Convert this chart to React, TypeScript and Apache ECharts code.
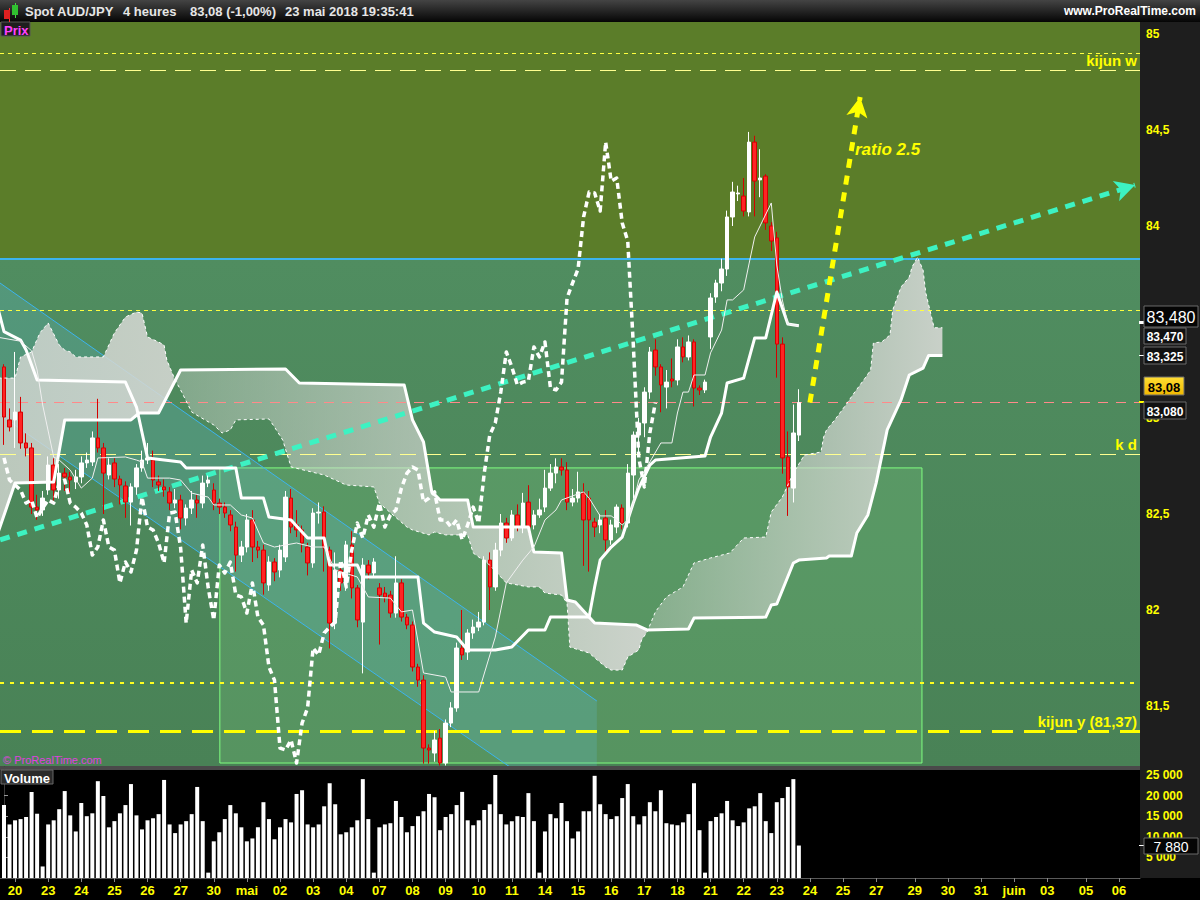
import React, { useEffect, useRef } from 'react';
import * as echarts from 'echarts';

// axe du temps : une séance = 6 barres de 4 heures
const dayLabels = ['20', '23', '24', '25', '26', '27', '30', 'mai', '02', '03', '04', '07', '08', '09', '10', '11', '14', '15', '16', '17', '18', '21', '22', '23', '24', '25', '27', '29', '30', '31', 'juin', '03', '05', '06'];
const dayIndex = [2, 8, 14, 20, 26, 32, 38, 44, 50, 56, 62, 68, 74, 80, 86, 92, 98, 104, 110, 116, 122, 128, 134, 140, 146, 152, 158, 165, 171, 177, 183, 189, 196, 202];

const priceTicks = [81.5, 82, 82.5, 83, 83.5, 84, 84.5, 85];
// 83,5 est caché par les étiquettes de droite
const priceLabels = [81.5, 82, 82.5, 83, 84, 84.5, 85];
const volumeTicks = [5000, 10000, 15000, 20000, 25000];

// bougies 4h : [ouverture, clôture, plus bas, plus haut]
const candles = [
  [83.266, 83.005, 82.86, 83.28], [82.99, 82.953, 82.93, 83.05], [82.99, 83.031, 82.844, 83.344], [83.031, 82.87, 82.84, 83.11],
  [82.87, 82.844, 82.8, 82.92], [82.844, 82.536, 82.5, 82.87], [82.536, 82.521, 82.47, 82.6], [82.521, 82.583, 82.49, 82.62],
  [82.625, 82.755, 82.6, 82.8], [82.755, 82.625, 82.57, 82.79], [82.625, 82.713, 82.58, 82.76], [82.713, 82.693, 82.62, 82.74],
  [82.693, 82.677, 82.61, 82.72], [82.667, 82.693, 82.63, 82.73], [82.693, 82.766, 82.66, 82.8], [82.766, 82.781, 82.74, 82.82],
  [82.771, 82.896, 82.75, 82.93], [82.896, 82.844, 82.82, 83.1], [82.844, 82.713, 82.5, 82.87], [82.703, 82.755, 82.68, 82.79],
  [82.766, 82.682, 82.64, 82.79], [82.682, 82.651, 82.55, 82.7], [82.646, 82.562, 82.48, 82.67], [82.562, 82.641, 82.44, 82.66],
  [82.641, 82.74, 82.6, 82.76], [82.74, 82.781, 82.72, 82.83], [82.781, 82.792, 82.76, 82.87], [82.781, 82.677, 82.64, 82.83],
  [82.667, 82.651, 82.62, 82.7], [82.641, 82.625, 82.59, 82.68], [82.615, 82.557, 82.52, 82.64], [82.557, 82.573, 82.53, 82.63],
  [82.573, 82.479, 82.42, 82.6], [82.479, 82.531, 82.44, 82.55], [82.531, 82.573, 82.5, 82.62], [82.573, 82.557, 82.48, 82.6],
  [82.557, 82.661, 82.53, 82.7], [82.661, 82.677, 82.64, 82.7], [82.625, 82.557, 82.52, 82.66], [82.557, 82.536, 82.5, 82.58],
  [82.536, 82.505, 82.48, 82.56], [82.495, 82.443, 82.41, 82.52], [82.432, 82.286, 82.2, 82.46], [82.286, 82.328, 82.25, 82.36],
  [82.328, 82.469, 82.3, 82.5], [82.469, 82.328, 82.25, 82.52], [82.328, 82.312, 82.27, 82.36], [82.312, 82.141, 82.08, 82.34],
  [82.13, 82.25, 82.1, 82.28], [82.25, 82.198, 82.15, 82.27], [82.208, 82.312, 82.17, 82.34], [82.276, 82.588, 82.25, 82.62],
  [82.583, 82.432, 82.4, 82.63], [82.443, 82.417, 82.38, 82.52], [82.417, 82.349, 82.3, 82.44], [82.328, 82.245, 82.18, 82.35],
  [82.245, 82.505, 82.22, 82.53], [82.505, 82.51, 82.45, 82.56], [82.51, 82.323, 82.2, 82.54], [82.312, 81.932, 81.8, 82.33],
  [81.932, 82.208, 81.9, 82.3], [82.208, 82.141, 82.1, 82.24], [82.141, 82.339, 82.1, 82.36], [82.339, 82.115, 82.06, 82.41],
  [82.115, 81.948, 81.91, 82.13], [81.937, 82.234, 81.67, 82.27], [82.234, 82.193, 82.16, 82.26], [82.193, 82.25, 82.17, 82.27],
  [82.115, 82.078, 81.82, 82.14], [82.088, 82.068, 82.04, 82.12], [82.078, 81.984, 81.96, 82.1], [81.984, 82.141, 81.96, 82.28],
  [82.141, 81.963, 81.94, 82.16], [81.963, 81.922, 81.9, 81.98], [81.922, 81.703, 81.68, 81.94], [81.703, 81.635, 81.6, 81.72],
  [81.635, 81.281, 81.2, 81.66], [81.281, 81.271, 81.2, 81.3], [81.255, 81.323, 81.21, 81.37], [81.333, 81.203, 81.19, 81.38],
  [81.203, 81.411, 81.19, 81.43], [81.411, 81.49, 81.39, 81.52], [81.49, 81.802, 81.47, 81.83], [81.802, 81.766, 81.74, 82.0],
  [81.781, 81.88, 81.74, 81.9], [81.88, 81.911, 81.85, 81.95], [81.911, 81.937, 81.89, 81.99], [81.937, 82.26, 81.92, 82.28],
  [82.26, 82.12, 82.0, 82.3], [82.12, 82.312, 82.1, 82.35], [82.312, 82.453, 82.28, 82.5], [82.453, 82.375, 82.35, 82.48],
  [82.375, 82.495, 82.36, 82.52], [82.495, 82.432, 82.41, 82.55], [82.432, 82.557, 82.4, 82.61], [82.562, 82.432, 82.4, 82.65],
  [82.443, 82.495, 82.42, 82.52], [82.495, 82.521, 82.48, 82.58], [82.536, 82.635, 82.51, 82.73], [82.635, 82.713, 82.62, 82.76],
  [82.713, 82.745, 82.66, 82.79], [82.745, 82.729, 82.7, 82.79], [82.729, 82.562, 82.52, 82.77], [82.562, 82.583, 82.54, 82.63],
  [82.583, 82.615, 82.56, 82.72], [82.609, 82.469, 82.23, 82.66], [82.583, 82.469, 82.2, 82.62], [82.458, 82.432, 82.38, 82.48],
  [82.443, 82.469, 82.4, 82.5], [82.479, 82.365, 82.3, 82.52], [82.365, 82.443, 82.34, 82.47], [82.432, 82.536, 82.4, 82.55],
  [82.531, 82.453, 82.42, 82.55], [82.453, 82.713, 82.43, 82.76], [82.703, 82.911, 82.58, 82.93], [82.911, 82.974, 82.8, 83.0],
  [82.974, 83.135, 82.9, 83.16], [83.135, 83.344, 83.1, 83.37], [83.354, 83.266, 83.22, 83.41], [83.266, 83.172, 83.03, 83.28],
  [83.161, 83.187, 83.05, 83.25], [83.203, 83.193, 83.16, 83.31], [83.198, 83.37, 83.17, 83.41], [83.37, 83.318, 83.29, 83.42],
  [83.318, 83.396, 83.3, 83.43], [83.396, 83.156, 83.06, 83.41], [83.156, 83.146, 83.12, 83.17], [83.146, 83.187, 83.13, 83.2],
  [83.422, 83.625, 83.36, 83.65], [83.63, 83.703, 83.6, 83.72], [83.703, 83.776, 83.66, 83.83], [83.776, 84.047, 83.74, 84.08],
  [84.047, 84.177, 84.0, 84.23], [84.167, 84.172, 84.13, 84.21], [84.156, 84.078, 84.05, 84.25], [84.073, 84.437, 84.05, 84.49],
  [84.437, 84.234, 84.05, 84.47], [84.24, 84.25, 84.15, 84.4], [84.26, 84.016, 83.98, 84.27], [84.0, 83.922, 83.87, 84.02],
  [83.938, 83.385, 83.21, 83.97], [83.385, 82.792, 82.71, 83.42], [82.797, 82.641, 82.49, 82.93], [82.635, 82.922, 82.56, 83.07],
  [82.911, 83.08, 82.88, 83.15],
];

const volumes = [
  17700, 13000, 14000, 14300, 14800, 20900, 15600, 2800, 13000, 14000, 16700, 21100, 15200, 11300, 18200, 15000, 15700, 23500,
  19900, 12300, 13800, 15700, 17700, 22800, 15200, 11800, 14000, 14500, 15500, 23800, 13000, 10900, 13000, 13800, 15500, 22100,
  13800, 1300, 8900, 11100, 14300, 17700, 15700, 12300, 8900, 9600, 12300, 18400, 14300, 9400, 12300, 14300, 13500, 20400,
  21300, 13000, 12300, 13000, 17400, 23000, 17900, 10600, 11100, 12300, 14000, 24000, 14300, 1300, 12300, 13000, 13300, 18700,
  14800, 11100, 12600, 15000, 16200, 20400, 19600, 11600, 14800, 15500, 17700, 20900, 14000, 12800, 14000, 16500, 17900, 25000,
  15500, 13000, 13800, 15000, 14800, 20600, 13800, 1300, 11300, 15500, 14500, 18200, 13800, 9600, 11300, 16200, 16200, 24800,
  17900, 15500, 14300, 15000, 19400, 22800, 15000, 13000, 15000, 18400, 16200, 21300, 13300, 13000, 12800, 13500, 15500, 23000,
  11600, 1300, 13800, 14800, 15700, 18700, 14000, 12600, 13500, 16900, 17400, 20600, 13800, 10900, 18400, 19400, 22100, 24000,
  7880,
];

// Ichimoku : sommets [barre, prix]
const tenkan = [
  [-1, 83.42], [3, 83.4], [5, 83.35], [6, 83.25], [7, 83.068], [9, 82.797], [10, 82.781], [12, 82.729], [14, 82.635], [16, 82.687],
  [17, 82.792], [22, 82.797], [24, 82.781], [25, 82.771], [26, 82.687], [30, 82.687], [32, 82.677], [34, 82.609], [37, 82.588],
  [38, 82.547], [41, 82.547], [43, 82.495], [45, 82.479], [47, 82.349], [49, 82.328], [53, 82.349], [56, 82.328], [58, 82.328],
  [60, 82.208], [64, 82.172], [66, 82.068], [70, 82.062], [72, 81.99], [74, 82.0], [76, 81.672], [80, 81.651], [81, 81.573],
  [86, 81.573], [89, 81.859], [91, 82.141], [94, 82.26], [96, 82.328], [98, 82.469], [100, 82.521], [101, 82.573], [105, 82.615],
  [106, 82.583], [108, 82.49], [110, 82.49], [111, 82.469], [112, 82.443], [113, 82.469], [114, 82.557], [115, 82.677],
  [117, 82.771], [119, 82.87], [121, 82.87], [122, 83.026], [123, 83.135], [124, 83.135], [125, 83.224], [127, 83.224],
  [128, 83.339], [130, 83.458], [131, 83.615], [132, 83.615], [134, 83.667], [135, 83.807], [136, 83.943], [139, 84.12],
  [140, 83.797], [141, 83.615], [142, 83.49], [144, 83.479],
];

const kijun = [
  [-1, 83.56], [0, 83.45], [3, 83.406], [4, 83.354], [6, 83.198], [22, 83.187], [24, 83.057], [26, 82.792], [32, 82.771],
  [33, 82.74], [42, 82.74], [43, 82.583], [47, 82.583], [48, 82.484], [52, 82.469], [55, 82.375], [58, 82.375], [59, 82.234],
  [64, 82.234], [65, 82.172], [75, 82.172], [76, 81.932], [78, 81.885], [82, 81.859], [84, 81.792], [89, 81.792], [92, 81.807],
  [95, 81.896], [98, 81.896], [99, 81.963], [106, 81.963], [107, 82.12], [108, 82.26], [110, 82.328], [112, 82.38], [114, 82.557],
  [115, 82.635], [117, 82.755], [118, 82.781], [127, 82.802], [128, 82.901], [130, 83.026], [131, 83.182], [134, 83.208],
  [136, 83.417], [138, 83.417], [140, 83.656], [142, 83.49], [144, 83.48],
];

const spanA = [
  [-1, 83.208], [2, 83.208], [3, 83.318], [5, 83.344], [6.5, 83.443], [8, 83.495], [10, 83.38], [11, 83.354], [12, 83.344],
  [13, 83.318], [18, 83.318], [20, 83.443], [22, 83.526], [24, 83.552], [25, 83.547], [26, 83.422], [28, 83.396], [29, 83.38],
  [29.5, 83.302], [31, 83.198], [32, 83.146], [34, 83.031], [35.5, 83.005], [38, 82.964], [39.5, 82.922], [41, 82.938],
  [42, 82.99], [48, 82.995], [49, 82.953], [50.5, 82.885], [52, 82.745], [58, 82.703], [62, 82.651], [67, 82.641], [68, 82.557],
  [73, 82.432], [74, 82.417], [77, 82.391], [78, 82.406], [80, 82.391], [84, 82.391], [85, 82.297], [88, 82.234], [91, 82.141],
  [95, 82.12], [97, 82.12], [98, 82.088], [101, 82.078], [102, 82.036], [102.5, 81.807], [106, 81.776], [107.5, 81.739],
  [109, 81.703], [110, 81.687], [112, 81.687], [113, 81.755], [115, 81.792], [115.5, 81.844], [116.5, 81.885], [118, 81.99],
  [120, 82.068], [123, 82.12], [125, 82.245], [128, 82.271], [131.5, 82.297], [134, 82.375], [138, 82.38], [139, 82.51],
  [141, 82.588], [143, 82.713], [145, 82.807], [148, 82.823], [148.5, 82.901], [149, 82.938], [150.5, 82.99], [152.5, 83.068],
  [154, 83.13], [156, 83.208], [157, 83.25], [157.5, 83.391], [159, 83.396], [160.5, 83.432], [161, 83.562], [162.5, 83.682],
  [164, 83.734], [164.5, 83.786], [165.5, 83.838], [166.5, 83.771], [167, 83.651], [168.5, 83.47], [170, 83.47],
];

const spanB = [
  [-1, 82.41], [2, 82.661], [9, 82.667], [11, 82.99], [23, 82.99], [24.5, 83.026], [28, 83.026], [32, 83.25], [51, 83.255],
  [53.5, 83.182], [72.5, 83.172], [74, 82.99], [76, 82.875], [77.5, 82.615], [79, 82.573], [84, 82.573], [85, 82.432],
  [95, 82.432], [96, 82.302], [101, 82.297], [102, 82.052], [103.5, 82.042], [107, 81.932], [114.5, 81.922], [116.5, 81.896],
  [124, 81.901], [125, 81.958], [138, 81.963], [139, 82.026], [140, 82.031], [143, 82.245], [144, 82.26], [149, 82.271],
  [149.5, 82.281], [153.5, 82.281], [154.5, 82.401], [156.5, 82.495], [158, 82.661], [160, 82.938], [162.5, 83.094],
  [164, 83.224], [166.5, 83.26], [167.5, 83.325], [170, 83.325],
];

// niveaux horizontaux et tracés
const levelValues = [84.901, 84.807, 83.828, 83.557, 83.08, 82.807, 81.62, 81.37];
const levelLabels = ['', 'kijun w', '', '', '', 'k d', '', 'kijun y (81,37)'];
const trendUp = [[-0.7, 82.365], [204.9, 84.213]];
const ratioArrow = [[146, 83.08], [155.1, 84.672]];
const channelHigh = [[-0.73, 83.703], [107.4, 81.526]];
const channelLow = [[-0.73, 83.016], [107.4, 80.87]];
const zoneBox = [[39.1, 82.74], [166.3, 81.203]];

const FONT = '"Liberation Sans", Arial, sans-serif';

const App: React.FC = () => {
  const chartRef = useRef<HTMLDivElement>(null);

  useEffect(() => {
    if (!chartRef.current) return;
    const chart = echarts.init(chartRef.current, undefined, { renderer: 'svg' });

    const xMin = -0.725;
    const xMax = 205.8;
    const candleData = candles.map((c, i) => [i, ...c]);
    const volumeData = volumes.map((v, i) => [i, v]);
    // chikou : clôture décalée de 26 barres vers l'arrière
    const chikou = candles.slice(26).map((c, k) => [k, c[1]]);

    const dayLabel = (v: number) => {
      const k = dayIndex.indexOf(Math.round(v));
      return k >= 0 ? dayLabels[k] : '';
    };

    const levelStyles: any[] = [
      { color: '#ffff40', width: 1, type: [4, 4] },
      { color: '#ffff90', width: 1, type: [16, 9] },
      { color: '#3cb4ee', width: 2, type: 'solid' },
      { color: '#ffff40', width: 1, type: [4, 4] },
      { color: '#ff8a8a', width: 1, type: [10, 8] },
      { color: '#ffff90', width: 1, type: [16, 9] },
      { color: '#ffff20', width: 2, type: [4, 6] },
      { color: '#ffff00', width: 3, type: [21, 11] },
    ];

    const line = (data: number[][], color: string, width: number, type: any, z: number) => ({
      type: 'line', xAxisIndex: 0, yAxisIndex: 0, data, symbol: 'none', silent: true, z,
      lineStyle: { color, width, type, join: 'round' },
    });

    const tag = (x: number, y: number, w: number, h: number, text: string, fill: any, color: string, font: string) => ({
      type: 'group',
      children: [
        { type: 'rect', z: 60, shape: { x, y, width: w, height: h }, style: { fill, stroke: '#6a6a6a', lineWidth: 1 } },
        { type: 'text', z: 61, x: x + w / 2, y: y + h / 2 + 1, style: { text, fill: color, font, align: 'center', verticalAlign: 'middle' } },
      ],
    });

    const option: any = {
      animation: false,
      grid: [
        { left: 0, right: 60, top: 22, bottom: 134, show: false },
        { left: 0, right: 60, top: 770, bottom: 22, show: true, backgroundColor: '#000', borderWidth: 0 },
      ],
      xAxis: [
        { type: 'value', gridIndex: 0, min: xMin, max: xMax, show: false },
        {
          type: 'value', gridIndex: 1, min: xMin, max: xMax,
          axisLine: { show: true, lineStyle: { color: '#5a5a5a' } },
          axisTick: { show: true, customValues: dayIndex, length: 4, lineStyle: { color: '#888' } },
          axisLabel: { customValues: dayIndex, formatter: dayLabel, color: '#ffff00', fontWeight: 'bold', fontSize: 13, fontFamily: FONT, margin: 6 },
          splitLine: { show: false },
        },
      ],
      yAxis: [
        {
          type: 'value', gridIndex: 0, position: 'right', min: 81.1875, max: 85.0625,
          axisLine: { show: true, lineStyle: { color: '#3a3a3a' } },
          axisTick: { show: true, customValues: priceTicks, length: 4, lineStyle: { color: '#999' } },
          axisLabel: { customValues: priceLabels, formatter: (v: number) => String(v).replace('.', ','), color: '#ffff00', fontWeight: 'bold', fontSize: 12, fontFamily: FONT, margin: 6 },
          splitLine: { show: false },
        },
        {
          type: 'value', gridIndex: 1, position: 'right', min: 0, max: 26214,
          axisLine: { show: true, lineStyle: { color: '#3a3a3a' } },
          axisTick: { show: true, customValues: volumeTicks, length: 4, lineStyle: { color: '#999' } },
          axisLabel: { customValues: volumeTicks, formatter: (v: number) => `${v / 1000} 000`, color: '#ffff00', fontWeight: 'bold', fontSize: 12, fontFamily: FONT, margin: 6 },
          splitLine: { show: false },
        },
      ],
      graphic: [
        { type: 'rect', z: -1, shape: { x: 1140, y: 22, width: 60, height: 856 }, style: { fill: '#1e1e1e' } },
        { type: 'rect', z: -1, shape: { x: 0, y: 766, width: 1140, height: 4 }, style: { fill: '#4a4a4a' } },
        {
          type: 'rect', z: 50, shape: { x: 0, y: 0, width: 1200, height: 22 },
          style: { fill: new echarts.graphic.LinearGradient(0, 0, 0, 1, [{ offset: 0, color: '#444' }, { offset: 1, color: '#050505' }]) },
        },
        { type: 'rect', z: 51, shape: { x: 9, y: 8, width: 1, height: 14 }, style: { fill: '#ff3030' } },
        { type: 'rect', z: 51, shape: { x: 4, y: 10, width: 6, height: 9 }, style: { fill: '#e02020' } },
        { type: 'rect', z: 51, shape: { x: 15, y: 3, width: 1, height: 15 }, style: { fill: '#40e040' } },
        { type: 'rect', z: 51, shape: { x: 12, y: 5, width: 6, height: 10 }, style: { fill: '#30c030' } },
        { type: 'text', z: 51, x: 25, y: 11, style: { text: 'Spot AUD/JPY', fill: '#e6e6e6', font: `bold 13px ${FONT}`, verticalAlign: 'middle' } },
        { type: 'text', z: 51, x: 123, y: 11, style: { text: '4 heures', fill: '#e6e6e6', font: `bold 13px ${FONT}`, verticalAlign: 'middle' } },
        { type: 'text', z: 51, x: 190, y: 11, style: { text: '83,08 (-1,00%)', fill: '#e6e6e6', font: `bold 13px ${FONT}`, verticalAlign: 'middle' } },
        { type: 'text', z: 51, x: 285, y: 11, style: { text: '23 mai 2018 19:35:41', fill: '#e6e6e6', font: `bold 13px ${FONT}`, verticalAlign: 'middle' } },
        { type: 'text', z: 51, x: 1196, y: 11, style: { text: 'www.ProRealTime.com', fill: '#ffffff', font: `bold 12px ${FONT}`, align: 'right', verticalAlign: 'middle' } },
        { type: 'rect', z: 50, shape: { x: 1, y: 22, width: 29, height: 14 }, style: { fill: '#1e1e1e', stroke: '#555', lineWidth: 1 } },
        { type: 'text', z: 51, x: 4, y: 30, style: { text: 'Prix', fill: '#ff40ff', font: `bold 13px ${FONT}`, verticalAlign: 'middle' } },
        { type: 'text', z: 50, x: 3, y: 760, style: { text: '© ProRealTime.com', fill: '#e040e0', font: `11px ${FONT}`, verticalAlign: 'middle' } },
        { type: 'rect', z: 50, shape: { x: 1, y: 770, width: 52, height: 14 }, style: { fill: '#2a2a2a', stroke: '#666', lineWidth: 1 } },
        { type: 'text', z: 51, x: 4, y: 778, style: { text: 'Volume', fill: '#ffffff', font: `bold 13px ${FONT}`, verticalAlign: 'middle' } },
        { type: 'text', z: 50, x: 855, y: 149, style: { text: 'ratio 2.5', fill: '#ffff00', font: `italic bold 17px ${FONT}`, verticalAlign: 'middle' } },
        { type: 'rect', z: 59, shape: { x: 1139, y: 321, width: 6, height: 3 }, style: { fill: '#ffffff' } },
        { type: 'rect', z: 59, shape: { x: 1139, y: 355, width: 5, height: 1 }, style: { fill: '#ffffff' } },
        { type: 'rect', z: 59, shape: { x: 1139, y: 401, width: 5, height: 2 }, style: { fill: '#ffff00' } },
        { type: 'rect', z: 59, shape: { x: 1139, y: 845, width: 5, height: 1 }, style: { fill: '#ffffff' } },
        tag(1144, 328, 42, 16, '83,470', '#111', '#ffffff', `bold 12px ${FONT}`),
        tag(1144, 306, 54, 21, '83,480', '#050505', '#ffffff', `16px ${FONT}`),
        tag(1144, 347, 42, 17, '83,325', '#111', '#ffffff', `bold 12px ${FONT}`),
        tag(1144, 377, 40, 18, '83,08', new echarts.graphic.LinearGradient(0, 0, 0, 1, [{ offset: 0, color: '#ffdd33' }, { offset: 1, color: '#f0b800' }]), '#000000', `bold 13px ${FONT}`),
        tag(1144, 402, 42, 17, '83,080', '#111', '#ffffff', `bold 12px ${FONT}`),
        tag(1144, 838, 54, 16, '7 880', '#050505', '#ffffff', `14px ${FONT}`),
      ],
      series: [
        {
          // fonds : olive au-dessus de la ligne bleue, vert en dessous
          type: 'line', xAxisIndex: 0, yAxisIndex: 0, data: [[-5, 83]], symbol: 'none', silent: true, z: 1,
          markArea: {
            silent: true,
            data: [
              [{ yAxis: 83.828, itemStyle: { color: '#5b7d29' } }, { yAxis: 85.0625 }],
              [{ yAxis: 81.1875, itemStyle: { color: new echarts.graphic.LinearGradient(0, 0, 0, 1, [{ offset: 0, color: '#508d60' }, { offset: 1, color: '#498256' }]) } }, { yAxis: 83.828 }],
            ],
          },
        },
        {
          // rectangle et canal baissier
          type: 'custom', xAxisIndex: 0, yAxisIndex: 0, data: [0], clip: true, silent: true, z: 2,
          renderItem: (params: any, api: any) => {
            const hi = channelHigh.map((p) => api.coord(p));
            const lo = channelLow.map((p) => api.coord(p));
            const r0 = api.coord(zoneBox[0]);
            const r1 = api.coord(zoneBox[1]);
            return {
              type: 'group',
              children: [
                { type: 'rect', shape: { x: r0[0], y: r0[1], width: r1[0] - r0[0], height: r1[1] - r0[1] }, style: { fill: 'rgba(140,220,140,0.2)', stroke: '#80ff80', lineWidth: 1 } },
                { type: 'polygon', shape: { points: [hi[0], hi[1], lo[1], lo[0]] }, style: { fill: 'rgba(100,190,220,0.22)' } },
                { type: 'polyline', shape: { points: hi }, style: { stroke: '#3cb4ee', lineWidth: 1, fill: 'none' } },
                { type: 'polyline', shape: { points: lo }, style: { stroke: '#3cb4ee', lineWidth: 1, fill: 'none' } },
              ],
            };
          },
        },
        {
          // nuage entre les deux spans
          type: 'custom', xAxisIndex: 0, yAxisIndex: 0, data: [0], clip: true, silent: true, z: 3,
          renderItem: (params: any, api: any) => {
            const upper = spanA.map((p) => api.coord(p));
            const lower = spanB.map((p) => api.coord(p)).reverse();
            const x0 = api.coord([spanA[0][0], 83])[0];
            const x1 = api.coord([spanA[spanA.length - 1][0], 83])[0];
            const f = (i: number) => (api.coord([i, 83])[0] - x0) / (x1 - x0);
            const g = (a: number) => `rgba(214,216,212,${a})`;
            const fill = new echarts.graphic.LinearGradient(x0, 0, x1, 0, [
              { offset: 0, color: g(0.8) },
              { offset: f(30.8) - 0.001, color: g(0.88) },
              { offset: f(30.8), color: g(0.38) },
              { offset: f(116.5) - 0.001, color: g(0.92) },
              { offset: f(116.5), color: g(0.36) },
              { offset: 1, color: g(0.9) },
            ], true);
            return { type: 'polygon', shape: { points: upper.concat(lower) }, style: { fill } };
          },
        },
        {
          type: 'line', xAxisIndex: 0, yAxisIndex: 0, data: [[-5, 83]], symbol: 'none', silent: true, z: 4,
          markLine: {
            silent: true, symbol: ['none', 'none'],
            data: levelValues.map((v, k) => ({
              yAxis: v,
              lineStyle: levelStyles[k],
              label: {
                show: !!levelLabels[k], formatter: levelLabels[k], position: 'insideEndTop', distance: [3, 2],
                color: '#ffff00', fontSize: 15, fontWeight: 'bold', fontFamily: FONT,
              },
            })),
          },
        },
        {
          type: 'candlestick', xAxisIndex: 0, yAxisIndex: 0, data: candleData, encode: { x: 0, y: [1, 2, 3, 4] },
          barWidth: 4, silent: true, z: 5,
          itemStyle: { color: '#ffffff', color0: '#ff2424', borderColor: '#ffffff', borderColor0: '#d40000', borderWidth: 1 },
        },
        line(spanA, '#ffffff', 1, [3, 3], 6),
        line(spanB, '#ffffff', 3, 'solid', 6),
        line(kijun, '#ffffff', 3, 'solid', 6),
        line(tenkan, '#f0f0f0', 1, 'solid', 6),
        line(chikou, '#ffffff', 3.5, [6, 4], 6),
        {
          type: 'line', xAxisIndex: 0, yAxisIndex: 0, data: [[-5, 83]], symbol: 'none', silent: true, z: 7,
          markLine: {
            silent: true, symbol: ['none', 'arrow'], symbolSize: [16, 20], label: { show: false },
            data: [
              [{ coord: trendUp[0], lineStyle: { color: '#3df2c2', width: 5, type: [10, 8] } }, { coord: trendUp[1] }],
              [{ coord: ratioArrow[0], lineStyle: { color: '#ffff00', width: 5, type: [9, 8] } }, { coord: ratioArrow[1] }],
            ],
          },
        },
        {
          type: 'bar', xAxisIndex: 1, yAxisIndex: 1, data: volumeData, barWidth: 4, silent: true,
          itemStyle: { color: '#ffffff' },
        },
      ],
    };

    chart.setOption(option);

    return () => {
      chart.dispose();
    };
  }, []);

  return (
    <div
      ref={chartRef}
      style={{ position: 'fixed', left: 0, top: 0, width: 1200, height: 900, background: '#000' }}
    />
  );
};

export default App;
